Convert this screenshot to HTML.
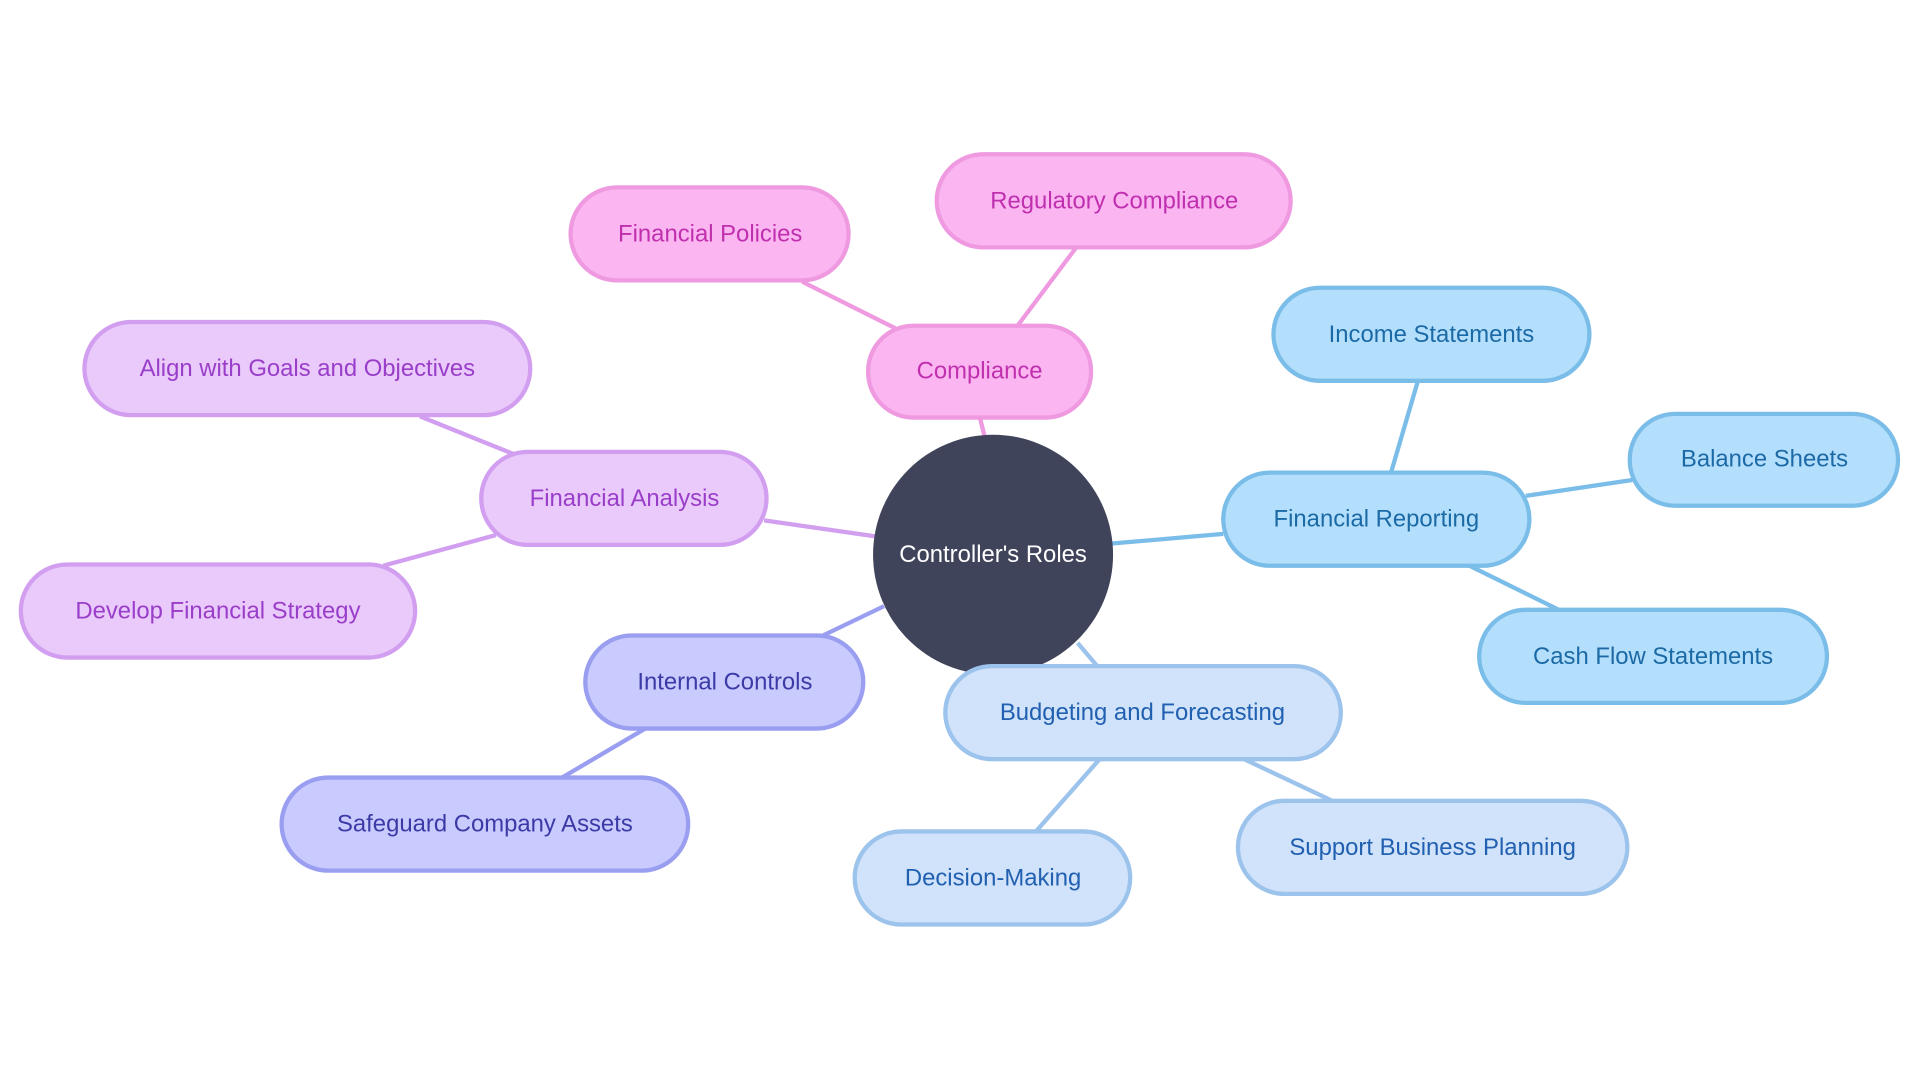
<!DOCTYPE html>
<html><head><meta charset="utf-8"><style>
html,body{margin:0;padding:0;background:#fff;width:1920px;height:1080px;overflow:hidden}
text{font-family:"Liberation Sans",sans-serif;font-size:19.5px;text-anchor:middle;dominant-baseline:central}
</style></head><body>
<svg width="1920" height="1080" viewBox="0 0 1568 882" xmlns="http://www.w3.org/2000/svg">
<g stroke-width="3.5" fill="none">
<line x1="804" y1="356" x2="800" y2="340" stroke="#ef9ae0"/>
<line x1="731" y1="268" x2="655" y2="230" stroke="#ef9ae0"/>
<line x1="831" y1="266" x2="879" y2="202" stroke="#ef9ae0"/>
<line x1="715" y1="438" x2="624" y2="425" stroke="#d29ef0"/>
<line x1="420" y1="371" x2="343" y2="340" stroke="#d29ef0"/>
<line x1="405" y1="437" x2="313" y2="462" stroke="#d29ef0"/>
<line x1="722" y1="495" x2="672" y2="519" stroke="#9a9ef0"/>
<line x1="527" y1="595" x2="459" y2="635" stroke="#9a9ef0"/>
<line x1="907" y1="444" x2="999" y2="436" stroke="#7bbde9"/>
<line x1="1136" y1="386" x2="1158" y2="311" stroke="#7bbde9"/>
<line x1="1246" y1="405" x2="1333" y2="392" stroke="#7bbde9"/>
<line x1="1200" y1="462" x2="1273" y2="498" stroke="#7bbde9"/>
<line x1="880" y1="525" x2="897" y2="545" stroke="#9cc3ec"/>
<line x1="898" y1="620" x2="846" y2="679" stroke="#9cc3ec"/>
<line x1="1016" y1="620" x2="1088" y2="654" stroke="#9cc3ec"/>
</g>
<circle cx="811" cy="453" r="98" fill="#40445b"/>
<text x="811" y="453" fill="#fff">Controller's Roles</text>
<g stroke-width="3.5">
<g fill="#fbb6f2" stroke="#ef9ae0">
<rect x="709" y="266" width="182" height="75" rx="37"/>
<rect x="466" y="153" width="227" height="76" rx="38"/>
<rect x="765" y="126" width="289" height="76" rx="38"/>
</g>
<g fill="#e9cafb" stroke="#d29ef0">
<rect x="393" y="369" width="233" height="76" rx="38"/>
<rect x="69" y="263" width="364" height="76" rx="38"/>
<rect x="17" y="461" width="322" height="76" rx="38"/>
</g>
<g fill="#c9cafd" stroke="#9a9ef0">
<rect x="478" y="519" width="227" height="76" rx="38"/>
<rect x="230" y="635" width="332" height="76" rx="38"/>
</g>
<g fill="#b4dffc" stroke="#7bbde9">
<rect x="999" y="386" width="250" height="76" rx="38"/>
<rect x="1040" y="235" width="258" height="76" rx="38"/>
<rect x="1331" y="338" width="219" height="75" rx="37"/>
<rect x="1208" y="498" width="284" height="76" rx="38"/>
</g>
<g fill="#d0e3fb" stroke="#9cc3ec">
<rect x="772" y="544" width="323" height="76" rx="38"/>
<rect x="698" y="679" width="225" height="76" rx="38"/>
<rect x="1011" y="654" width="318" height="76" rx="38"/>
</g>
</g>
<g fill="#bf2fae">
<text x="800" y="303">Compliance</text>
<text x="580" y="191">Financial Policies</text>
<text x="910" y="164">Regulatory Compliance</text>
</g>
<g fill="#9a3ec9">
<text x="510" y="407">Financial Analysis</text>
<text x="251" y="301">Align with Goals and Objectives</text>
<text x="178" y="499">Develop Financial Strategy</text>
</g>
<g fill="#3b3aa6">
<text x="592" y="557">Internal Controls</text>
<text x="396" y="673">Safeguard Company Assets</text>
</g>
<g fill="#1b6aa6">
<text x="1124" y="424">Financial Reporting</text>
<text x="1169" y="273">Income Statements</text>
<text x="1441" y="375">Balance Sheets</text>
<text x="1350" y="536">Cash Flow Statements</text>
</g>
<g fill="#2160b0">
<text x="933" y="582">Budgeting and Forecasting</text>
<text x="811" y="717">Decision-Making</text>
<text x="1170" y="692">Support Business Planning</text>
</g>
</svg>
</body></html>
